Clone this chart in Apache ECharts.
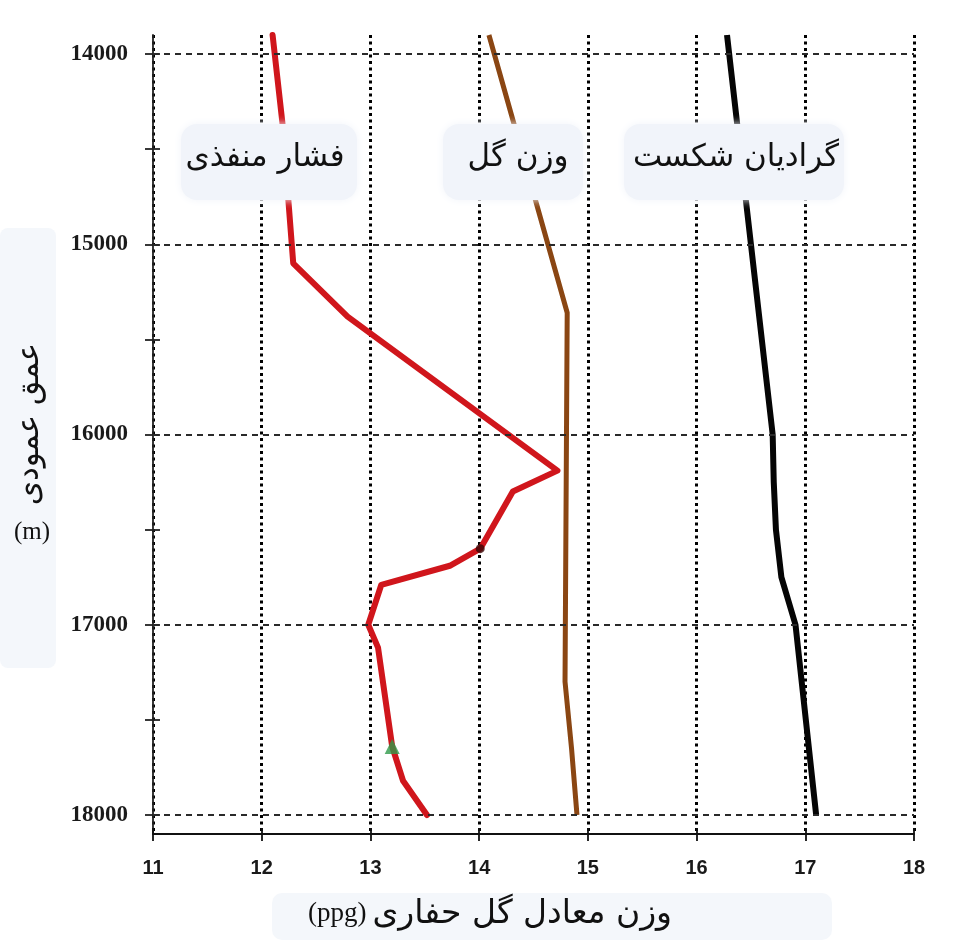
<!DOCTYPE html>
<html>
<head>
<meta charset="utf-8">
<script src="https://cdn.jsdelivr.net/npm/echarts@6/dist/echarts.min.js"></script>
<style>
  html, body { margin: 0; padding: 0; background: #ffffff; }
  #chart { width: 954px; height: 940px; }
</style>
</head>
<body>
<div id="chart"></div>
<script>
// Depth axis (m) and mud-weight axis (ppg)
const depthMin = 13900;
const depthMax = 18100;
const depthTickLabels = [14000, 15000, 16000, 17000, 18000];
const depthTicks = [14000, 14500, 15000, 15500, 16000, 16500, 17000, 17500, 18000];
const weightTickMin = 11;
const weightTickMax = 18;

// Pore pressure profile
const poreDepth = [13900, 14360, 15100, 15380, 16190, 16300, 16600, 16690, 16790, 17000, 17120, 17640, 17820, 18000];
const porePressure = [12.10, 12.19, 12.29, 12.79, 14.72, 14.31, 14.01, 13.73, 13.10, 12.98, 13.07, 13.20, 13.30, 13.52];

// Mud weight profile
const mudDepth = [13900, 15360, 17300, 17650, 18000];
const mudWeight = [14.09, 14.81, 14.79, 14.85, 14.90];

// Fracture gradient profile
const fracDepth = [13900, 16000, 16250, 16500, 16750, 17000, 18000];
const fracGradient = [16.28, 16.70, 16.71, 16.73, 16.78, 16.91, 17.10];

// Highlighted points on the pore pressure curve
const kickPoint = [14.01, 16600];
const lossPoint = [13.20, 17640];

// Curve captions
const poreCaption = 'فشار منفذی';
const mudCaption = 'وزن گل';
const fracCaption = 'گرادیان شکست';
const xTitleText = 'وزن معادل گل حفاری';
const xTitleUnit = '(ppg)';
const yTitleText = 'عمق عمودی';
const yTitleUnit = '(m)';

const pairs = (xs, ys) => xs.map((x, i) => [x, ys[i]]);

const arabicFont = "'DejaVu Sans', sans-serif";
const serifFont = "'Liberation Serif', 'DejaVu Serif', serif";
const boxFill = '#f1f4fa';

const chart = echarts.init(document.getElementById('chart'), null, { renderer: 'canvas' });

const option = {
  backgroundColor: '#ffffff',
  animation: false,
  grid: { left: 153, right: 40, top: 35, bottom: 106, containLabel: false },
  xAxis: [
    {
      type: 'value', min: weightTickMin, max: weightTickMax, interval: 1, position: 'bottom',
      axisLine: { show: true, lineStyle: { color: '#111', width: 1.8 } },
      axisTick: { show: true, length: 7, lineStyle: { color: '#111', width: 1.8 } },
      axisLabel: {
        show: true, margin: 24, color: '#1a1a1a', fontSize: 20, fontWeight: 'bold',
        fontFamily: "'Liberation Sans Narrow', 'Liberation Sans', Arial, sans-serif"
      },
      splitLine: { show: true, lineStyle: { color: '#000', width: 3, type: [3, 3.5] } }
    },
    {
      type: 'value', min: weightTickMin, max: weightTickMax, interval: 1, position: 'bottom',
      axisLine: { show: false },
      axisTick: { show: true, inside: true, length: 6, lineStyle: { color: '#111', width: 1.8 } },
      axisLabel: { show: false },
      splitLine: { show: false }
    }
  ],
  yAxis: [
    {
      type: 'value', inverse: true, min: depthMin, max: depthMax, position: 'left',
      axisLine: { show: true, lineStyle: { color: '#222', width: 1.8 } },
      axisTick: { show: true, length: 8, customValues: depthTicks, lineStyle: { color: '#222', width: 1.8 } },
      axisLabel: {
        show: true, margin: 25, customValues: depthTickLabels, color: '#1a1a1a',
        fontSize: 23, fontWeight: 'bold', fontFamily: serifFont,
        formatter: v => String(v)
      },
      splitLine: { show: false }
    },
    {
      type: 'value', inverse: true, min: depthMin, max: depthMax, position: 'left',
      axisLine: { show: false },
      axisTick: { show: true, inside: true, length: 7, customValues: depthTicks, lineStyle: { color: '#222', width: 1.8 } },
      axisLabel: { show: false },
      splitLine: { show: false }
    }
  ],
  series: [
    {
      // horizontal depth grid
      type: 'line', xAxisIndex: 0, yAxisIndex: 0, data: [], z: 1, silent: true,
      markLine: {
        silent: true, symbol: 'none', animation: false,
        label: { show: false },
        lineStyle: { color: '#2a2a2a', width: 2, type: [6, 5] },
        data: depthTickLabels.map(v => ({ yAxis: v }))
      }
    },
    {
      name: 'pore', type: 'line', z: 3, xAxisIndex: 0, yAxisIndex: 0,
      data: pairs(porePressure, poreDepth), symbol: 'none',
      lineStyle: { color: '#d0161c', width: 6, join: 'round', cap: 'round' }
    },
    {
      name: 'mud', type: 'line', z: 3, xAxisIndex: 0, yAxisIndex: 0,
      data: pairs(mudWeight, mudDepth), symbol: 'none',
      lineStyle: { color: '#8a4613', width: 5, join: 'round' }
    },
    {
      name: 'frac', type: 'line', z: 3, xAxisIndex: 0, yAxisIndex: 0,
      data: pairs(fracGradient, fracDepth), symbol: 'none',
      lineStyle: { color: '#050505', width: 6, join: 'round' }
    },
    {
      type: 'scatter', z: 4, xAxisIndex: 0, yAxisIndex: 0, data: [kickPoint],
      symbol: 'circle', symbolSize: 9, itemStyle: { color: '#3a0606' }
    },
    {
      type: 'scatter', z: 4, xAxisIndex: 0, yAxisIndex: 0, data: [lossPoint],
      symbol: 'triangle', symbolSize: 15, itemStyle: { color: '#2f9a4a' }
    }
  ],
  graphic: [
    // caption boxes over the curves
    { type: 'rect', z: 100, shape: { x: 181, y: 124, width: 176, height: 76, r: 16 },
      style: { fill: boxFill, shadowBlur: 8, shadowColor: boxFill } },
    { type: 'rect', z: 100, shape: { x: 443, y: 124, width: 140, height: 76, r: 16 },
      style: { fill: boxFill, shadowBlur: 8, shadowColor: boxFill } },
    { type: 'rect', z: 100, shape: { x: 624, y: 124, width: 220, height: 76, r: 16 },
      style: { fill: boxFill, shadowBlur: 8, shadowColor: boxFill } },
    { type: 'text', z: 101, x: 265, y: 158,
      style: { text: poreCaption, font: '31px ' + arabicFont, fill: '#111', align: 'center', verticalAlign: 'middle' } },
    { type: 'text', z: 101, x: 518, y: 158,
      style: { text: mudCaption, font: '31px ' + arabicFont, fill: '#111', align: 'center', verticalAlign: 'middle' } },
    { type: 'text', z: 101, x: 736, y: 158,
      style: { text: fracCaption, font: '31px ' + arabicFont, fill: '#111', align: 'center', verticalAlign: 'middle' } },

    // axis titles
    { type: 'rect', z: 50, shape: { x: 272, y: 893, width: 560, height: 47, r: 10 },
      style: { fill: '#f4f7fb' } },
    { type: 'text', z: 101, x: 490, y: 914,
      style: {
        text: '{u|' + xTitleUnit + '}{a|' + xTitleText + '}',
        align: 'center', verticalAlign: 'middle', fill: '#111',
        rich: {
          u: { fontFamily: serifFont, fontSize: 27, fill: '#111', padding: [0, 6, 0, 0] },
          a: { fontFamily: arabicFont, fontSize: 33, fill: '#111' }
        }
      } },
    { type: 'rect', z: 50, shape: { x: 0, y: 228, width: 56, height: 440, r: 8 },
      style: { fill: '#f4f7fb' } },
    { type: 'text', z: 101, x: 30, y: 424, rotation: Math.PI / 2,
      style: { text: yTitleText, font: '31px ' + arabicFont, fill: '#111', align: 'center', verticalAlign: 'middle' } },
    { type: 'text', z: 101, x: 32, y: 532,
      style: { text: yTitleUnit, font: '25px ' + serifFont, fill: '#111', align: 'center', verticalAlign: 'middle' } }
  ]
};

chart.setOption(option);
</script>
</body>
</html>
